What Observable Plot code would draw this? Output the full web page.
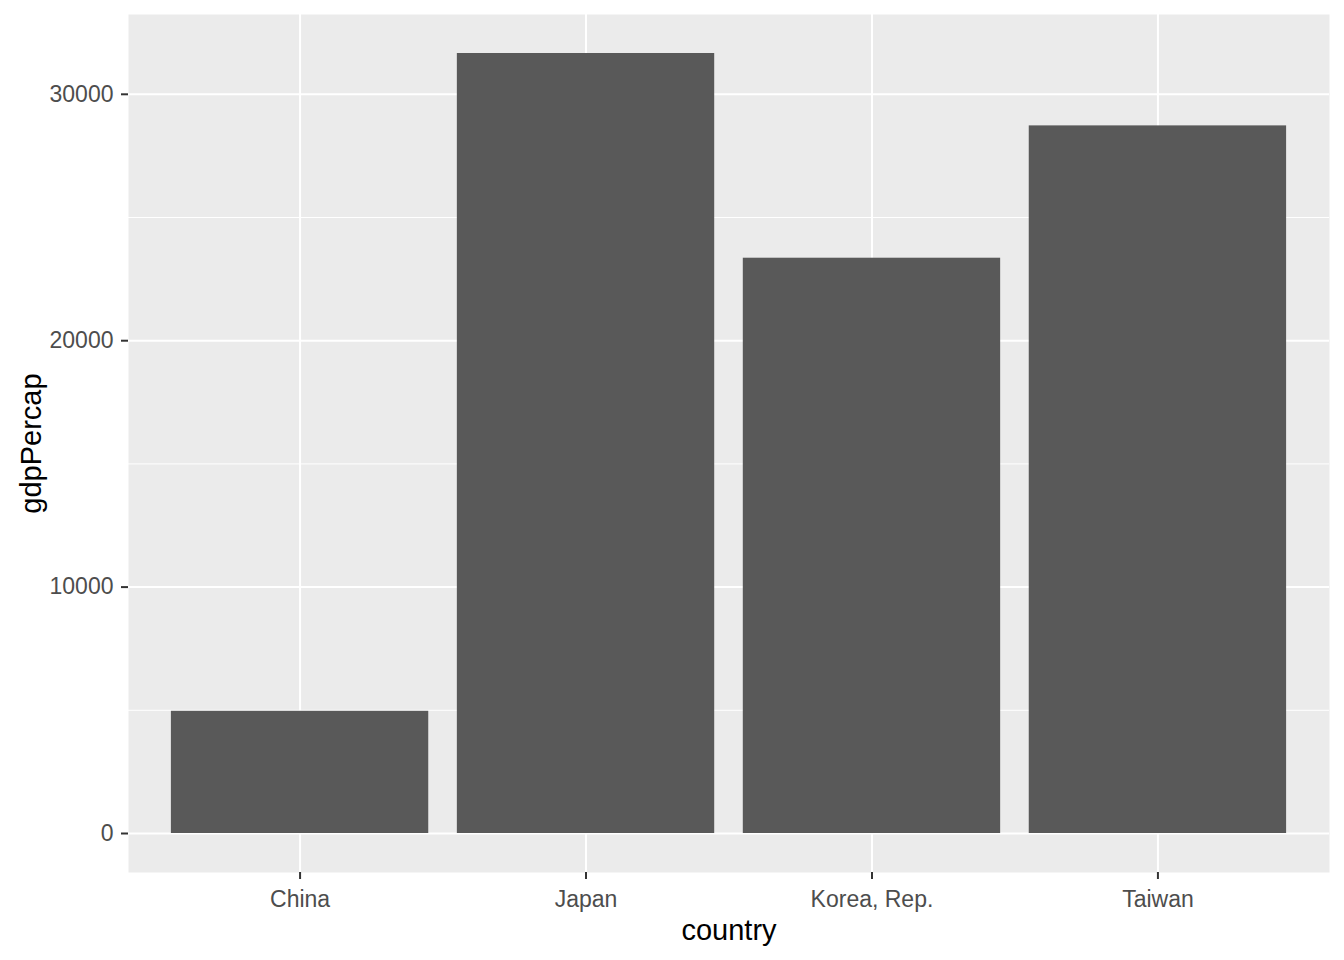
<!DOCTYPE html>
<html>
<head>
<meta charset="utf-8">
<script src="https://cdn.jsdelivr.net/npm/d3@7"></script>
<script src="https://cdn.jsdelivr.net/npm/@observablehq/plot@0.6"></script>
<style>
  html, body { margin: 0; padding: 0; background: #ffffff; }
  #chart svg { display: block; }
</style>
</head>
<body>
<div id="chart"></div>
<script>
const countries = ["China", "Japan", "Korea, Rep.", "Taiwan"];
const gdpPercap = [4959.115, 31656.07, 23348.14, 28718.28];
const majorTicks = [0, 10000, 20000, 30000];
const minorTicks = [5000, 15000, 25000];

const data = countries.map((c, i) => ({country: c, gdpPercap: gdpPercap[i]}));
const ymax = d3.max(gdpPercap);
const pad = ymax * 0.05;

const font = "'Liberation Sans', Arial, sans-serif";

const chart = Plot.plot({
  width: 1344,
  height: 960,
  marginLeft: 128,
  marginRight: 15,
  marginTop: 14,
  marginBottom: 88,
  style: {fontFamily: font, background: "#ffffff"},
  x: {type: "band", domain: countries, paddingInner: 0.1, paddingOuter: 0.15, align: 0.5, round: false},
  y: {domain: [-pad, ymax + pad]},
  marks: [
    Plot.frame({fill: "#EBEBEB", stroke: null}),
    Plot.gridY(minorTicks, {stroke: "#ffffff", strokeOpacity: 1, strokeWidth: 1}),
    Plot.gridY(majorTicks, {stroke: "#ffffff", strokeOpacity: 1, strokeWidth: 2}),
    Plot.gridX(countries, {stroke: "#ffffff", strokeOpacity: 1, strokeWidth: 2}),
    Plot.barY(data, {x: "country", y: "gdpPercap", fill: "#595959"}),
    Plot.axisY(majorTicks, {tickSize: 7, tickPadding: 8, stroke: "#333333", strokeWidth: 2, fill: "#4D4D4D", fontSize: 23, tickFormat: d => String(d), label: null}),
    Plot.axisX(countries, {tickSize: 7, tickPadding: 11, stroke: "#333333", strokeWidth: 2, fill: "#4D4D4D", fontSize: 23, label: null}),
    Plot.text(["gdpPercap"], {frameAnchor: "left", dx: -97, rotate: -90, lineAnchor: "middle", textAnchor: "middle", fontSize: 29, fill: "#000000"}),
    Plot.text(["country"], {frameAnchor: "bottom", dy: 58, lineAnchor: "middle", textAnchor: "middle", fontSize: 29, fill: "#000000"})
  ]
});
document.getElementById("chart").appendChild(chart);
</script>
</body>
</html>
